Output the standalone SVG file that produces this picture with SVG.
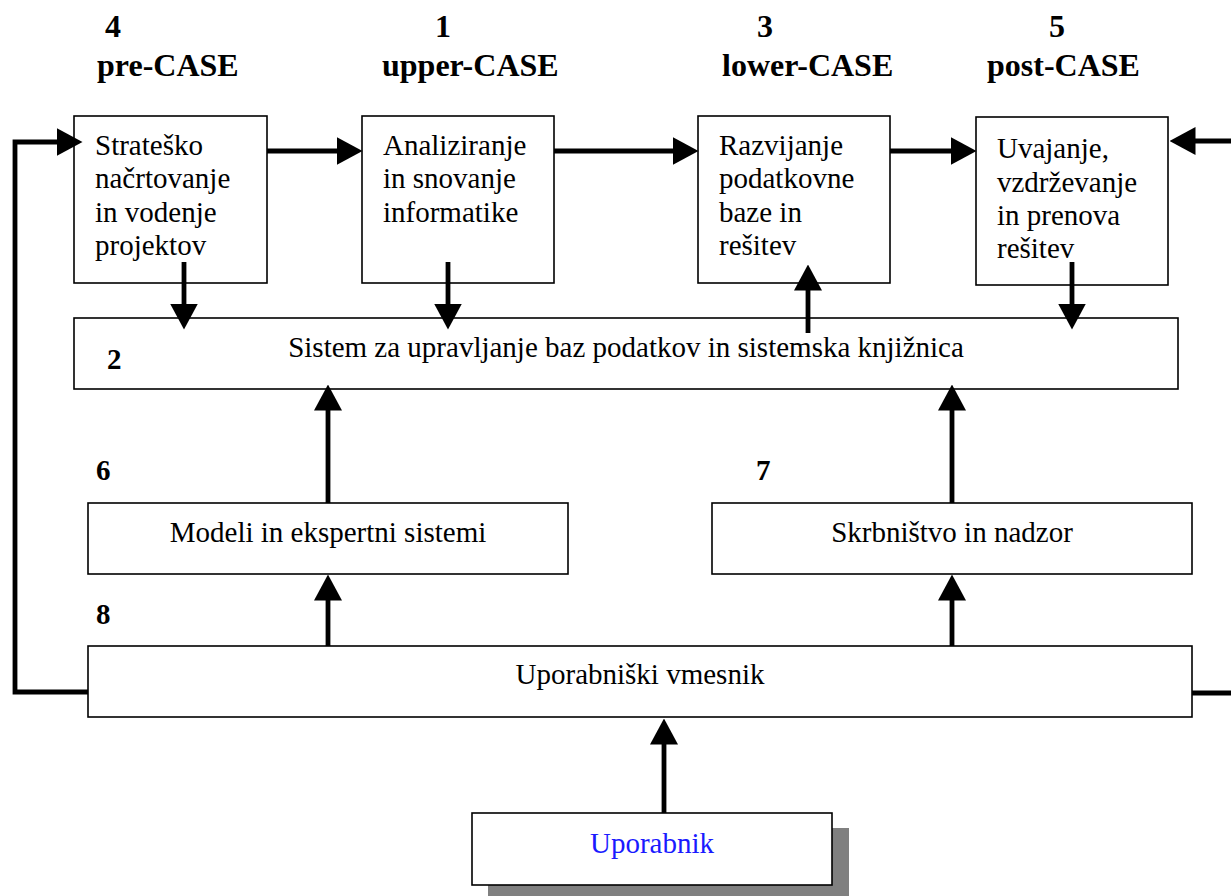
<svg xmlns="http://www.w3.org/2000/svg" width="1231" height="896" viewBox="0 0 1231 896">
  <style>
    .box { fill: #ffffff; stroke: #000000; stroke-width: 1.6; }
    .t { font-family: "Liberation Serif", "Times New Roman", serif; font-size: 29px; fill: #000000; }
    .c { text-anchor: middle; }
    .h { font-family: "Liberation Serif", "Times New Roman", serif; font-size: 32px; font-weight: bold; fill: #000000; }
    .n { font-family: "Liberation Serif", "Times New Roman", serif; font-size: 29px; font-weight: bold; fill: #000000; }
    .link { fill: none; stroke: #000000; stroke-width: 4.8; marker-end: url(#head); }
    .plain { fill: none; stroke: #000000; stroke-width: 4.8; }
  </style>
  <defs>
    <marker id="head" viewBox="0 0 26 28" markerWidth="26" markerHeight="28" refX="0.5" refY="14" orient="auto" markerUnits="userSpaceOnUse">
      <path d="M0,0 L26,14 L0,28 Z" fill="#000000"/>
    </marker>
  </defs>

  <rect width="1231" height="896" fill="#ffffff"/>

  <!-- column headings -->
  <g id="headings">
    <text class="h" x="113" y="37" text-anchor="middle">4</text>
    <text class="h" x="97" y="76">pre-CASE</text>
    <text class="h" x="443" y="37" text-anchor="middle">1</text>
    <text class="h" x="382" y="76">upper-CASE</text>
    <text class="h" x="765" y="37" text-anchor="middle">3</text>
    <text class="h" x="722" y="76">lower-CASE</text>
    <text class="h" x="1057" y="37" text-anchor="middle">5</text>
    <text class="h" x="987" y="76">post-CASE</text>
  </g>

  <g id="strategic">
    <rect class="box" x="74" y="116" width="193" height="167"/>
    <text class="t" x="95" y="155">Strateško</text>
    <text class="t" x="95" y="188">načrtovanje</text>
    <text class="t" x="95" y="222">in vodenje</text>
    <text class="t" x="95" y="255">projektov</text>
  </g>

  <g id="analysis">
    <rect class="box" x="362" y="116" width="192" height="167"/>
    <text class="t" x="383" y="155">Analiziranje</text>
    <text class="t" x="383" y="188">in snovanje</text>
    <text class="t" x="383" y="222">informatike</text>
  </g>

  <g id="development">
    <rect class="box" x="698" y="116" width="192" height="167"/>
    <text class="t" x="719" y="155">Razvijanje</text>
    <text class="t" x="719" y="188">podatkovne</text>
    <text class="t" x="719" y="222">baze in</text>
    <text class="t" x="719" y="255">rešitev</text>
  </g>

  <g id="maintenance">
    <rect class="box" x="976" y="117" width="192" height="168"/>
    <text class="t" x="997" y="158">Uvajanje,</text>
    <text class="t" x="997" y="192">vzdrževanje</text>
    <text class="t" x="997" y="225">in prenova</text>
    <text class="t" x="997" y="258">rešitev</text>
  </g>

  <g id="dbms">
    <rect class="box" x="74" y="318" width="1104" height="71"/>
    <text class="n" x="107" y="369">2</text>
    <text class="t c" x="626" y="357">Sistem za upravljanje baz podatkov in sistemska knjižnica</text>
  </g>

  <g id="models">
    <text class="n" x="96" y="480">6</text>
    <rect class="box" x="88" y="503" width="480" height="71"/>
    <text class="t c" x="328" y="542">Modeli in ekspertni sistemi</text>
  </g>

  <g id="supervision">
    <text class="n" x="756" y="480">7</text>
    <rect class="box" x="712" y="503" width="480" height="71"/>
    <text class="t c" x="952" y="542">Skrbništvo in nadzor</text>
  </g>

  <g id="interface">
    <text class="n" x="96" y="624">8</text>
    <rect class="box" x="88" y="646" width="1104" height="71"/>
    <text class="t c" x="640" y="684">Uporabniški vmesnik</text>
  </g>

  <g id="user">
    <rect x="488" y="828" width="361" height="72" fill="#808080"/>
    <rect class="box" x="472" y="813" width="360" height="72"/>
    <text class="t c" x="652" y="853" style="fill:#1a1aff">Uporabnik</text>
  </g>

  <g id="connectors">
    <!-- feedback loop on the left into strategic planning -->
    <polyline class="link" points="88,692 15,692 15,142 57,142"/>
    <!-- flow between the CASE phases -->
    <line class="link" x1="267" y1="151" x2="337" y2="151"/>
    <line class="link" x1="554" y1="151" x2="673" y2="151"/>
    <line class="link" x1="890" y1="151" x2="951" y2="151"/>
    <!-- feedback from the right into maintenance -->
    <line class="link" x1="1231" y1="141" x2="1195" y2="141"/>
    <line class="plain" x1="1192" y1="693" x2="1231" y2="693"/>
    <!-- phases to and from the DBMS -->
    <line class="link" x1="184" y1="262" x2="184" y2="304"/>
    <line class="link" x1="448" y1="262" x2="448" y2="304"/>
    <line class="link" x1="808" y1="333" x2="808" y2="290"/>
    <line class="link" x1="1072" y1="262" x2="1072" y2="304"/>
    <!-- middle layer up to the DBMS -->
    <line class="link" x1="328" y1="503" x2="328" y2="410"/>
    <line class="link" x1="952" y1="503" x2="952" y2="410"/>
    <!-- interface up to middle layer -->
    <line class="link" x1="328" y1="646" x2="328" y2="600"/>
    <line class="link" x1="952" y1="646" x2="952" y2="600"/>
    <!-- user up to interface -->
    <line class="link" x1="664" y1="813" x2="664" y2="744"/>
  </g>
</svg>
